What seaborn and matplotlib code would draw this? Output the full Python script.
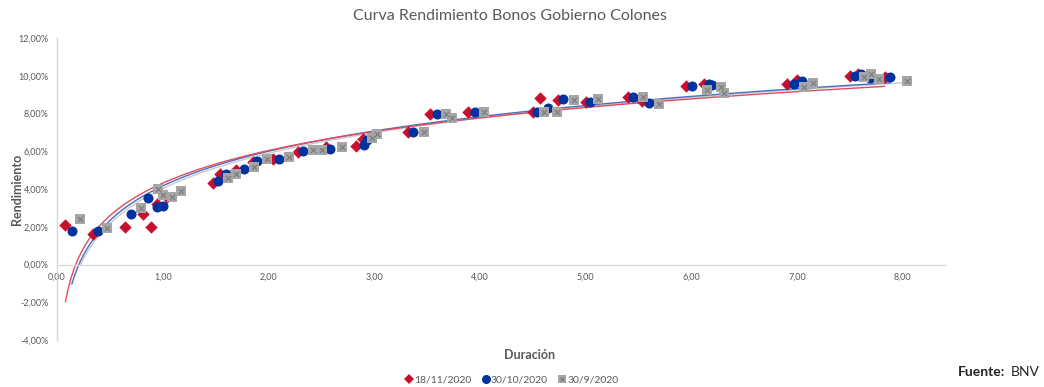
import numpy as np
import pandas as pd
import matplotlib
matplotlib.use("Agg")
import matplotlib.pyplot as plt
from matplotlib.lines import Line2D
from matplotlib.legend_handler import HandlerTuple
from matplotlib.ticker import FuncFormatter
import seaborn as sns

# Bond duration (years) and yield (%) for each valuation date
dur_nov18 = [0.08, 0.34, 0.64, 0.81, 0.89, 0.95, 1.04, 1.48, 1.54, 1.69, 1.85, 2.04,
             2.28, 2.54, 2.83, 2.89, 3.32, 3.53, 3.89, 4.50, 4.57, 4.74, 5.00, 5.40,
             5.53, 5.95, 6.12, 6.91, 7.00, 7.50, 7.58, 7.83]
yld_nov18 = [2.07, 1.60, 2.00, 2.70, 2.00, 3.20, 3.55, 4.30, 4.80, 5.00, 5.45, 5.60,
             5.95, 6.20, 6.27, 6.65, 7.00, 7.97, 8.07, 8.07, 8.80, 8.70, 8.60, 8.90,
             8.65, 9.45, 9.55, 9.55, 9.80, 10.00, 10.10, 9.95]

dur_oct30 = [0.14, 0.39, 0.70, 0.86, 0.95, 1.00, 1.52, 1.60, 1.77, 1.89, 2.10, 2.33,
             2.58, 2.90, 2.93, 3.37, 3.59, 3.95, 4.54, 4.64, 4.79, 5.04, 5.45, 5.60,
             6.01, 6.17, 6.20, 6.97, 7.05, 7.55, 7.61, 7.69, 7.88]
yld_oct30 = [1.80, 1.80, 2.70, 3.50, 3.05, 3.10, 4.40, 4.80, 5.05, 5.50, 5.60, 6.00,
             6.10, 6.35, 6.60, 7.00, 7.97, 8.07, 8.07, 8.30, 8.75, 8.60, 8.90, 8.55,
             9.45, 9.55, 9.50, 9.55, 9.70, 10.00, 10.10, 9.90, 9.95]

dur_sep30 = [0.22, 0.47, 0.79, 0.96, 1.00, 1.09, 1.17, 1.62, 1.69, 1.86, 1.99, 2.19,
             2.42, 2.51, 2.70, 2.98, 3.03, 3.47, 3.68, 3.74, 4.04, 4.61, 4.73, 4.89,
             5.12, 5.54, 5.69, 6.15, 6.28, 6.31, 7.07, 7.15, 7.63, 7.70, 7.78, 8.04]
yld_sep30 = [2.40, 1.95, 3.00, 4.00, 3.70, 3.60, 3.90, 4.60, 4.80, 5.15, 5.60, 5.70,
             6.05, 6.05, 6.20, 6.70, 6.90, 7.00, 7.97, 7.75, 8.07, 8.10, 8.07, 8.70,
             8.75, 8.90, 8.50, 9.25, 9.40, 9.10, 9.40, 9.60, 9.95, 10.10, 9.85, 9.70]

labels = ["18/11/2020", "30/10/2020", "30/9/2020"]
durations = [dur_nov18, dur_oct30, dur_sep30]
yields = [yld_nov18, yld_oct30, yld_sep30]

y_ticks = [-4, -2, 0, 2, 4, 6, 8, 10, 12]
x_ticks = [0, 1, 2, 3, 4, 5, 6, 7, 8]

marker_col = ["#C8102E", "#0033A0", "#A6A6A6"]
trend_col = ["#E34A5E", "#4A6FC2", "#C8C8C8"]
markers = ["D", "o", "s"]
sizes = [40, 52, 46]

sns.set_theme(style="white")
plt.rcParams["font.family"] = ["Lato", "DejaVu Sans"]
txt = "#595959"

fig = plt.figure(figsize=(10.44, 3.87), dpi=100)
ax = fig.add_axes([57 / 1044, 1 - 340 / 387, (945 - 57) / 1044, (340 - 38) / 387])

frames = [pd.DataFrame({"Duracion": d, "Rendimiento": y, "Fecha": lab})
          for d, y, lab in zip(durations, yields, labels)]

# Logarithmic trend line for each date: y = a*ln(x) + b
for i, df in enumerate(frames):
    x = df["Duracion"].to_numpy()
    a, b = np.polyfit(np.log(x), df["Rendimiento"].to_numpy(), 1)
    xs = np.linspace(x.min(), x.max(), 300)
    trend = pd.DataFrame({"x": xs, "y": a * np.log(xs) + b})
    sns.lineplot(data=trend, x="x", y="y", ax=ax, color=trend_col[i],
                 lw=1.0, zorder=2 + (2 - i) * 0.1, legend=False)

for i, df in enumerate(frames):
    sns.scatterplot(data=df, x="Duracion", y="Rendimiento", ax=ax,
                    marker=markers[i], s=sizes[i], color=marker_col[i],
                    edgecolor=marker_col[i], linewidth=0, zorder=3 + i, legend=False)
# cross pattern on the grey squares
sns.scatterplot(data=frames[2], x="Duracion", y="Rendimiento", ax=ax, marker="x",
                s=14, color="#7A7A7A", linewidth=0.8, zorder=5.5, legend=False)

ax.set_xlim(0, 8.4)
ax.set_ylim(-4, 12)
ax.set_xticks(x_ticks)
ax.set_yticks(y_ticks)
ax.xaxis.set_major_formatter(FuncFormatter(lambda v, p: f"{v:.2f}".replace(".", ",")))
ax.yaxis.set_major_formatter(FuncFormatter(lambda v, p: f"{v:.2f}%".replace(".", ",")))
ax.tick_params(axis="both", length=0, labelsize=6.5, colors=txt)
ax.tick_params(axis="x", pad=6)
ax.tick_params(axis="y", pad=6)

for s in ["top", "right"]:
    ax.spines[s].set_visible(False)
ax.spines["bottom"].set_position(("data", 0))
ax.spines["bottom"].set_color("#D9D9D9")
ax.spines["left"].set_color("#D9D9D9")
ax.spines["bottom"].set_linewidth(1)
ax.spines["left"].set_linewidth(1)
ax.grid(False)

ax.set_xlabel("Duración", fontsize=9, fontweight="bold", color=txt)
ax.set_ylabel("Rendimiento", fontsize=9, fontweight="bold", color=txt)
ax.xaxis.set_label_coords((530 - 57) / (945 - 57), -(349 - 340) / (340 - 38))
ax.yaxis.set_label_coords(-(57 - 23) / (945 - 57), 0.5)

fig.text(510 / 1044, 1 - 16 / 387, "Curva Rendimiento Bonos Gobierno Colones",
         ha="center", va="center", fontsize=11.5, color=txt)

# Legend
handles = [
    Line2D([], [], ls="", marker="D", ms=5.5, color=marker_col[0], mew=0),
    Line2D([], [], ls="", marker="o", ms=6.5, color=marker_col[1], mew=0),
    (Line2D([], [], ls="", marker="s", ms=6, color=marker_col[2], mew=0),
     Line2D([], [], ls="", marker="x", ms=3.5, color="#7A7A7A", mew=0.8)),
]
fig.legend(handles, labels, loc="center", bbox_to_anchor=(511 / 1044, 1 - 380 / 387),
           ncol=3, frameon=False, fontsize=7.5, labelcolor=txt, handletextpad=0.0,
           columnspacing=0.9, handlelength=1.0,
           handler_map={tuple: HandlerTuple(ndivide=1)})

fig.text(1040 / 1044, 1 - 372 / 387, "BNV", ha="right", va="center",
         fontsize=10, color="#222222")
fig.text(1040 / 1044 - 0.033, 1 - 372 / 387, "Fuente:", ha="right", va="center",
         fontsize=10, color="#222222", fontweight="bold")

fig.savefig("out.png", dpi=100)
